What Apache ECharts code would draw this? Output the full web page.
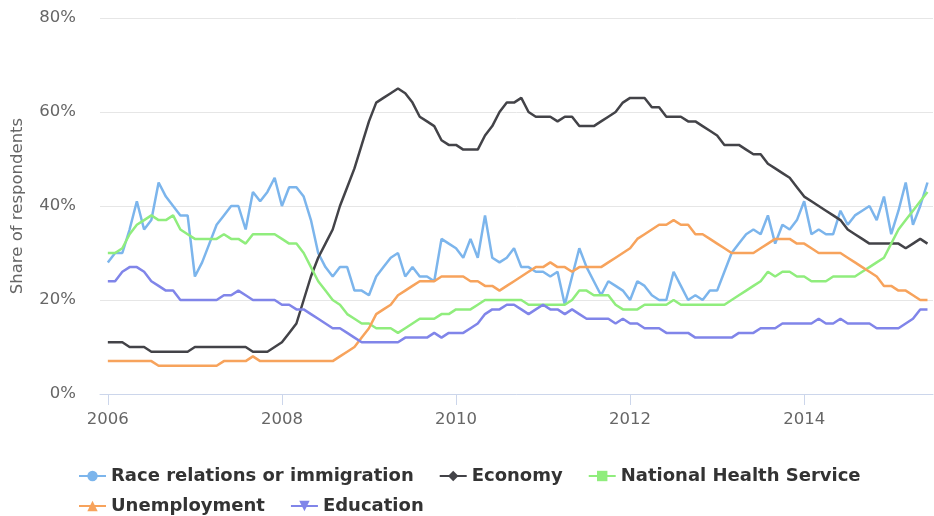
<!DOCTYPE html>
<html>
<head>
<meta charset="utf-8">
<script src="https://cdn.jsdelivr.net/npm/echarts@6/dist/echarts.min.js"></script>
<style>
  html, body { margin: 0; padding: 0; background: #fff; }
  #chart { width: 934px; height: 516px; }
</style>
</head>
<body>
<div id="chart"></div>
<script>
// monthly readings, Jan 2006 .. Jun 2015 (share of respondents, %)
const startYear = 2006;
const yearTicks = [2006, 2008, 2010, 2012, 2014];

const race = [
  28, 30, 30, 35, 41, 35, 37, 45, 42, 40, 38, 38,
  25, 28, 32, 36, 38, 40, 40, 35, 43, 41, 43, 46,
  40, 44, 44, 42, 37, 30, 27, 25, 27, 27, 22, 22,
  21, 25, 27, 29, 30, 25, 27, 25, 25, 24, 33, 32,
  31, 29, 33, 29, 38, 29, 28, 29, 31, 27, 27, 26,
  26, 25, 26, 19, 25, 31, 27, 24, 21, 24, 23, 22,
  20, 24, 23, 21, 20, 20, 26, 23, 20, 21, 20, 22,
  22, 26, 30, 32, 34, 35, 34, 38, 32, 36, 35, 37,
  41, 34, 35, 34, 34, 39, 36, 38, 39, 40, 37, 42,
  34, 39, 45, 36, 40, 45
];
const economy = [
  11, 11, 11, 10, 10, 10, 9, 9, 9, 9, 9, 9,
  10, 10, 10, 10, 10, 10, 10, 10, 9, 9, 9, 10,
  11, 13, 15, 20, 25, 29, 32, 35, 40, 44, 48, 53,
  58, 62, 63, 64, 65, 64, 62, 59, 58, 57, 54, 53,
  53, 52, 52, 52, 55, 57, 60, 62, 62, 63, 60, 59,
  59, 59, 58, 59, 59, 57, 57, 57, 58, 59, 60, 62,
  63, 63, 63, 61, 61, 59, 59, 59, 58, 58, 57, 56,
  55, 53, 53, 53, 52, 51, 51, 49, 48, 47, 46, 44,
  42, 41, 40, 39, 38, 37, 35, 34, 33, 32, 32, 32,
  32, 32, 31, 32, 33, 32
];
const nhs = [
  30, 30, 31, 34, 36, 37, 38, 37, 37, 38, 35, 34,
  33, 33, 33, 33, 34, 33, 33, 32, 34, 34, 34, 34,
  33, 32, 32, 30, 27, 24, 22, 20, 19, 17, 16, 15,
  15, 14, 14, 14, 13, 14, 15, 16, 16, 16, 17, 17,
  18, 18, 18, 19, 20, 20, 20, 20, 20, 20, 19, 19,
  19, 19, 19, 19, 20, 22, 22, 21, 21, 21, 19, 18,
  18, 18, 19, 19, 19, 19, 20, 19, 19, 19, 19, 19,
  19, 19, 20, 21, 22, 23, 24, 26, 25, 26, 26, 25,
  25, 24, 24, 24, 25, 25, 25, 25, 26, 27, 28, 29,
  32, 35, 37, 39, 41, 43
];
const unemployment = [
  7, 7, 7, 7, 7, 7, 7, 6, 6, 6, 6, 6,
  6, 6, 6, 6, 7, 7, 7, 7, 8, 7, 7, 7,
  7, 7, 7, 7, 7, 7, 7, 7, 8, 9, 10, 12,
  14, 17, 18, 19, 21, 22, 23, 24, 24, 24, 25, 25,
  25, 25, 24, 24, 23, 23, 22, 23, 24, 25, 26, 27,
  27, 28, 27, 27, 26, 27, 27, 27, 27, 28, 29, 30,
  31, 33, 34, 35, 36, 36, 37, 36, 36, 34, 34, 33,
  32, 31, 30, 30, 30, 30, 31, 32, 33, 33, 33, 32,
  32, 31, 30, 30, 30, 30, 29, 28, 27, 26, 25, 23,
  23, 22, 22, 21, 20, 20
];
const education = [
  24, 24, 26, 27, 27, 26, 24, 23, 22, 22, 20, 20,
  20, 20, 20, 20, 21, 21, 22, 21, 20, 20, 20, 20,
  19, 19, 18, 18, 17, 16, 15, 14, 14, 13, 12, 11,
  11, 11, 11, 11, 11, 12, 12, 12, 12, 13, 12, 13,
  13, 13, 14, 15, 17, 18, 18, 19, 19, 18, 17, 18,
  19, 18, 18, 17, 18, 17, 16, 16, 16, 16, 15, 16,
  15, 15, 14, 14, 14, 13, 13, 13, 13, 12, 12, 12,
  12, 12, 12, 13, 13, 13, 14, 14, 14, 15, 15, 15,
  15, 15, 16, 15, 15, 16, 15, 15, 15, 15, 14, 14,
  14, 14, 15, 16, 18, 18
];

// pair each monthly value with its date as a decimal year
function toPoints(values) {
  return values.map((v, i) => [startYear + i / 12, v]);
}

const chart = echarts.init(document.getElementById("chart"));

const lineSeries = (name, values, color, symbol) => ({
  name: name,
  type: "line",
  data: toPoints(values),
  color: color,
  symbol: symbol,
  showSymbol: false,
  lineStyle: { width: 2.5, color: color },
  itemStyle: { color: color },
  emphasis: { disabled: true },
});

// two legend rows, like the original
const legendRow = (top, names) => ({
  left: 78,
  top: top,
  padding: 0,
  itemGap: 25,
  itemWidth: 27,
  itemHeight: 13,
  textStyle: {
    color: "#333333",
    fontSize: 18,
    fontWeight: "bold",
  },
  data: names,
});

const option = {
  animation: false,
  backgroundColor: "#ffffff",
  textStyle: { fontFamily: "DejaVu Sans" },
  grid: {
    left: 100,
    right: 1,
    top: 18,
    bottom: 122,
    containLabel: false,
    outerBoundsMode: "none",
  },
  xAxis: {
    type: "value",
    min: 2005.91,
    max: 2015.48,
    splitLine: { show: false },
    axisLine: { lineStyle: { color: "#ccd6eb", width: 1 } },
    axisTick: {
      show: true,
      length: 11,
      customValues: yearTicks,
      lineStyle: { color: "#ccd6eb" },
    },
    axisLabel: {
      customValues: yearTicks,
      color: "#666666",
      fontSize: 16.5,
      margin: 17,
      formatter: (v) => String(v),
    },
  },
  yAxis: {
    type: "value",
    min: 0,
    max: 80,
    interval: 20,
    name: "Share of respondents",
    nameLocation: "middle",
    nameGap: 74,
    nameTextStyle: { color: "#666666", fontSize: 16.5 },
    axisLine: { show: false },
    axisTick: { show: false },
    axisLabel: {
      color: "#666666",
      fontSize: 16.5,
      margin: 24,
      formatter: "{value}%",
    },
    splitLine: { lineStyle: { color: "#e6e6e6", width: 1 } },
  },
  legend: [
    legendRow(467, ["Race relations or immigration", "Economy", "National Health Service"]),
    legendRow(497, ["Unemployment", "Education"]),
  ],
  series: [
    lineSeries("Race relations or immigration", race, "#7cb5ec", "circle"),
    lineSeries("Economy", economy, "#434348", "diamond"),
    lineSeries("National Health Service", nhs, "#90ed7d", "rect"),
    lineSeries("Unemployment", unemployment, "#f7a35c", "triangle"),
    lineSeries("Education", education, "#8085e9", "path://M0,0 L10,0 L5,10 Z"),
  ],
};

chart.setOption(option);
</script>
</body>
</html>
